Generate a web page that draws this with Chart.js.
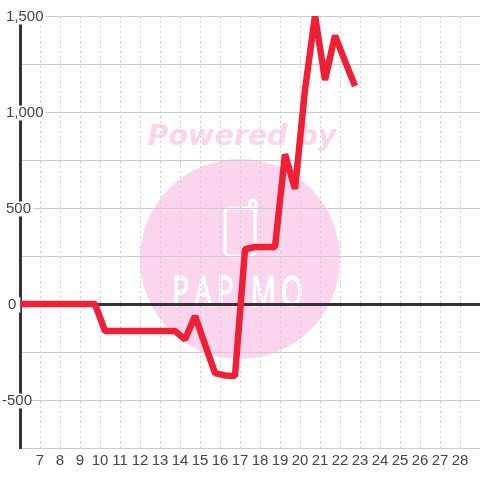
<!DOCTYPE html>
<html>
<head>
<meta charset="utf-8">
<style>
  html, body { margin: 0; padding: 0; background: #fff; }
  canvas { display: block; }
</style>
<script src="https://cdn.jsdelivr.net/npm/chart.js@4/dist/chart.umd.js"></script>
</head>
<body>
<canvas id="chart" width="480" height="480"></canvas>
<script>
// one reading every half tick
const days = [5.75, 6.25, 6.75, 7.25, 7.75, 8.25, 8.75, 9.25, 9.75, 10.25, 10.75, 11.25, 11.75, 12.25, 12.75, 13.25, 13.75, 14.25, 14.75, 15.25, 15.75, 16.25, 16.75, 17.25, 17.75, 18.25, 18.75, 19.25, 19.75, 20.25, 20.75, 21.25, 21.75, 22.25, 22.75];
const balance = [0, 0, 0, 0, 0, 0, 0, 0, 0, -141, -141, -141, -141, -141, -141, -141, -141, -185, -62, -210, -360, -372, -375, 285, 297, 297, 297, 780, 600, 1115, 1502, 1167, 1398, 1265, 1135];
const yTicks = [-750, -500, -250, 0, 250, 500, 750, 1000, 1250, 1500];
const yLabelled = [-500, 0, 500, 1000, 1500];
const xMin = 6;
const xMax = 29;

const isLabelled = (v) => yLabelled.includes(v);

// watermark sits behind the grid, so it goes in beforeDraw
const watermark = {
  id: 'watermark',
  beforeDraw(chart) {
    const ctx = chart.ctx;
    ctx.save();
    ctx.fillStyle = '#fbd5ee';
    ctx.beginPath();
    ctx.arc(240, 259, 100, 0, Math.PI * 2);
    ctx.fill();

    ctx.font = 'italic bold 28.5px "DejaVu Sans"';
    ctx.textAlign = 'center';
    ctx.textBaseline = 'alphabetic';
    ctx.fillText('Powered by', 242, 145);

    // phone icon
    ctx.strokeStyle = '#fff';
    ctx.lineWidth = 3;
    ctx.lineJoin = 'round';
    ctx.lineCap = 'round';
    ctx.beginPath();
    ctx.roundRect(225, 208, 30, 48, 5);
    ctx.stroke();
    ctx.beginPath();
    ctx.moveTo(250, 208);
    ctx.lineTo(250, 203);
    ctx.arc(253, 203, 3, Math.PI, 0);
    ctx.lineTo(256, 212);
    ctx.stroke();

    ctx.fillStyle = '#fff';
    ctx.strokeStyle = '#fff';
    ctx.lineWidth = 1;
    ctx.font = '400 28px "Open Sans"';
    ctx.letterSpacing = '5px';
    ctx.textAlign = 'center';
    ctx.save();
    ctx.translate(240, 306);
    ctx.scale(1, 1.5);
    ctx.fillText('PAPiMO', 0, 0);
    ctx.strokeText('PAPiMO', 0, 0);
    ctx.restore();
    ctx.restore();
  }
};

// the y labels are not quite left aligned in the original
const labelNudge = {
  id: 'labelNudge',
  afterLayout(chart) {
    chart.scales.y.getLabelItems().forEach((item) => {
      const dx = item.label === '-500' ? -4 : item.label === '0' ? 2 : 0;
      item.options.translation[0] += dx;
      if (item.options.backdrop) item.options.backdrop.left += dx;
    });
  }
};

new Chart(document.getElementById('chart'), {
  type: 'line',
  plugins: [watermark, labelNudge],
  data: {
    datasets: [{
      data: days.map((d, i) => ({ x: d, y: balance[i] })),
      borderColor: '#ef2035',
      borderWidth: 6.5,
      borderJoinStyle: 'bevel',
      borderCapStyle: 'butt',
      pointRadius: 0,
      tension: 0,
      fill: false,
    }],
  },
  options: {
    responsive: false,
    animation: false,
    layout: { padding: { left: 6, top: 16, right: 0, bottom: 6 } },
    plugins: { legend: { display: false }, tooltip: { enabled: false } },
    scales: {
      x: {
        type: 'linear',
        min: xMin,
        max: xMax,
        afterFit: (scale) => { scale.paddingLeft = 0; scale.paddingRight = 0; },
        grid: { color: '#ccc', lineWidth: 1, drawTicks: false },
        border: { color: '#ccc', width: 1, dash: [2, 3] },
        ticks: {
          stepSize: 1,
          autoSkip: false,
          maxRotation: 0,
          padding: 4,
          color: '#444',
          font: { family: '"Liberation Sans"', size: 15 },
          callback: (v) => (v === xMin || v === xMax ? '' : String(v)),
        },
      },
      y: {
        type: 'linear',
        min: yTicks[0],
        max: yTicks[yTicks.length - 1],
        afterBuildTicks: (scale) => { scale.ticks = yTicks.map((v) => ({ value: v })); },
        afterFit: (scale) => { scale.width = 14; },
        grid: {
          color: (c) => (c.tick && c.tick.value === 0 ? '#333' : '#ccc'),
          lineWidth: (c) => (c.tick && c.tick.value === 0 ? 3 : 1),
          drawTicks: false,
        },
        border: { color: '#333', width: 3 },
        ticks: {
          mirror: true,
          padding: -14,
          labelOffset: 1,
          color: '#444',
          font: { family: '"Liberation Sans"', size: 15, lineHeight: 1 },
          showLabelBackdrop: (c) => isLabelled(c.tick.value),
          backdropColor: '#fff',
          backdropPadding: { left: 2, right: 2, top: 0, bottom: 0 },
          callback: (v) => (isLabelled(v) ? v.toLocaleString('en-US') : ''),
        },
      },
    },
  },
});
</script>
</body>
</html>
